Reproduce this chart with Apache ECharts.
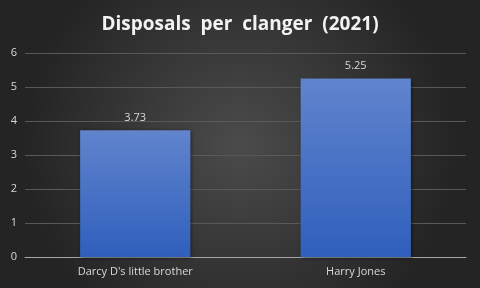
<!DOCTYPE html>
<html><head><meta charset="utf-8">
<script src="https://cdn.jsdelivr.net/npm/echarts@6/dist/echarts.min.js"></script>
<style>html,body{margin:0;padding:0;background:#333;}#c{width:480px;height:288px;}</style>
</head><body><div id="c"></div>
<script>
const categories = ["Darcy D's little brother", "Harry Jones"];
const values = [3.73, 5.25];
const yTicks = [0, 1, 2, 3, 4, 5, 6];
const titleText = "Disposals  per  clanger  (2021)";

const chart = echarts.init(document.getElementById('c'));
chart.setOption({
  backgroundColor: {
    type: 'radial', x: 0.5, y: 0.5, r: 0.75,
    colorStops: [{offset: 0, color: '#4b4b4b'}, {offset: 1, color: '#242424'}]
  },
  animation: false,
  title: {
    text: titleText, left: 'center', top: 10,
    textStyle: {color: '#f2f2f2', fontFamily: 'Open Sans', fontWeight: 'bold', fontSize: 19}
  },
  grid: {left: 25, right: 14, top: 53, bottom: 31},
  xAxis: {
    type: 'category', data: categories,
    axisLine: {lineStyle: {color: '#a6a6a6', width: 1}},
    axisTick: {show: false},
    axisLabel: {color: '#d9d9d9', fontFamily: 'Open Sans', fontSize: 11, margin: 9}
  },
  yAxis: {
    type: 'value', min: yTicks[0], max: yTicks[yTicks.length - 1], interval: 1,
    axisLine: {show: false}, axisTick: {show: false},
    axisLabel: {color: '#d9d9d9', fontFamily: 'Open Sans', fontSize: 11, margin: 8},
    splitLine: {lineStyle: {color: '#595959', width: 1}}
  },
  series: [{
    type: 'bar', data: values, barWidth: '50%',
    itemStyle: {
      color: {type: 'linear', x: 0, y: 0, x2: 0, y2: 1,
        colorStops: [{offset: 0, color: '#6184cd'}, {offset: 1, color: '#2f5fbc'}]},
      shadowColor: 'rgba(0,0,0,0.5)', shadowBlur: 4, shadowOffsetX: 1, shadowOffsetY: 1
    },
    label: {show: true, position: 'top', distance: 7, color: '#d9d9d9',
      fontFamily: 'Open Sans', fontSize: 11, formatter: p => p.value.toFixed(2)}
  }]
});
</script></body></html>
